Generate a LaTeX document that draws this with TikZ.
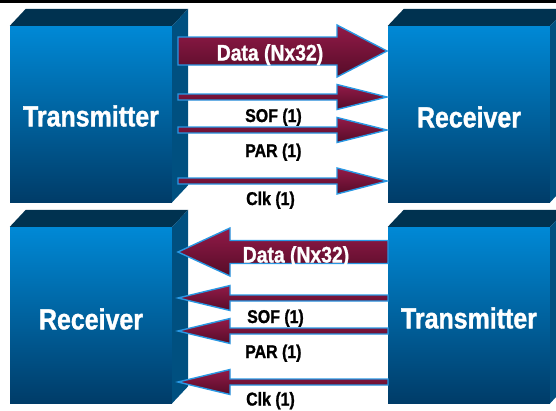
\documentclass[tikz,border=0pt]{standalone}
\usepackage{fontspec}
\setmainfont{Liberation Sans}[FakeStretch=0.86, BoldFeatures={FakeBold=1.2}]
\usetikzlibrary{calc}

\definecolor{facetop}{RGB}{0,137,214}
\definecolor{facebot}{RGB}{0,60,104}
\definecolor{lidcol}{RGB}{0,50,80}
\definecolor{sidecol}{RGB}{0,80,128}
\definecolor{sigtop}{RGB}{146,26,72}
\definecolor{sigbot}{RGB}{86,12,40}
\definecolor{sigedge}{RGB}{40,152,228}

\tikzset{
  frontbox/.style={rectangle, inner sep=0pt, minimum width=162pt, minimum height=176pt,
    top color=facetop, bottom color=facebot},
  boxlabel/.style={text=white, font=\bfseries\fontsize{29}{30}\selectfont, inner sep=0pt},
  datalabel/.style={text=white, font=\bfseries\fontsize{22.5}{24}\selectfont, inner sep=0pt, anchor=base},
  siglabel/.style={text=black, font=\bfseries\fontsize{18.5}{20}\selectfont, inner sep=0pt, anchor=base west},
  sigfill/.style={top color=sigtop, bottom color=sigbot, draw=sigedge, line width=1.4pt, line join=miter},
}

% 3-D block: front face node plus lid and side faces
\newcommand\blockfaces[1]{%
  \fill[lidcol] (#1.north west) -- ++(16,-17) -- ($(#1.north east)+(16,-17)$) -- (#1.north east) -- cycle;
  \fill[sidecol] (#1.north east) -- ++(16,-17) -- ($(#1.south east)+(16,-17)$) -- (#1.south east) -- cycle;
}

% block arrow: name, tail, tip, shaft half-width, head half-width, head length
\newcommand\sigarrow[6]{%
  \coordinate (#1-h) at ($(#3)!#6!(#2)$);
  \draw[sigfill] ($(#2)!#4!90:(#3)$) -- ($(#1-h)!#4!90:(#3)$) -- ($(#1-h)!#5!90:(#3)$)
    -- (#3) -- ($(#1-h)!#5!-90:(#3)$) -- ($(#1-h)!#4!-90:(#3)$) -- ($(#2)!#4!-90:(#3)$) -- cycle;
}

\begin{document}
\begin{tikzpicture}[x=1pt, y=-1pt]
  \useasboundingbox (0,0) rectangle (556,410);
  \clip (0,0) rectangle (556,410);
  \fill[black] (0,0) rectangle (556,2.5);

  % upper pair
  \node[frontbox] (tx1) at (91,114) {};
  \blockfaces{tx1}
  \node[boxlabel] (tx1l) at ([yshift=-2pt]tx1.center) {Transmitter};
  \node[frontbox] (rx1) at (469,114) {};
  \blockfaces{rx1}
  \node[boxlabel] (rx1l) at ([yshift=-3pt]rx1.center) {Receiver};

  % lower pair
  \node[frontbox] (rx2) at (91,315) {};
  \blockfaces{rx2}
  \node[boxlabel] (rx2l) at ([yshift=-4pt]rx2.center) {Receiver};
  \node[frontbox] (tx2) at (469,315) {};
  \blockfaces{tx2}
  \node[boxlabel] (tx2l) at ([yshift=-3pt]tx2.center) {Transmitter};

  % upper links, left to right
  \coordinate (d1s) at (178,51);  \coordinate (d1e) at (387,51);
  \coordinate (s1s) at (178,97);  \coordinate (s1e) at (387,97);
  \coordinate (p1s) at (178,130); \coordinate (p1e) at (387,130);
  \coordinate (c1s) at (178,181); \coordinate (c1e) at (387,181);
  \sigarrow{d1}{d1s}{d1e}{14pt}{26pt}{50pt}
  \sigarrow{s1}{s1s}{s1e}{3pt}{12.5pt}{50pt}
  \sigarrow{p1}{p1s}{p1e}{3pt}{12.5pt}{50pt}
  \sigarrow{c1}{c1s}{c1e}{3pt}{13pt}{50pt}
  \node[datalabel] (d1l) at (270,60.5) {Data (Nx32)};
  \node[siglabel] (s1l) at (245,122) {SOF (1)};
  \node[siglabel] (p1l) at (245,157) {PAR (1)};
  \node[siglabel] (c1l) at (246,205) {Clk (1)};

  % lower links, right to left
  \coordinate (d2s) at (388,252); \coordinate (d2e) at (178,252);
  \coordinate (s2s) at (388,298); \coordinate (s2e) at (178,298);
  \coordinate (p2s) at (388,331); \coordinate (p2e) at (178,331);
  \coordinate (c2s) at (388,382); \coordinate (c2e) at (178,382);
  \sigarrow{d2}{d2s}{d2e}{11.5pt}{24pt}{52pt}
  \sigarrow{s2}{s2s}{s2e}{3pt}{12.5pt}{52pt}
  \sigarrow{p2}{p2s}{p2e}{3pt}{12.5pt}{52pt}
  \sigarrow{c2}{c2s}{c2e}{3pt}{12.5pt}{52pt}
  \node[datalabel] (d2l) at (296,262.5) {Data (Nx32)};
  \node[siglabel] (s2l) at (247,323) {SOF (1)};
  \node[siglabel] (p2l) at (245,358) {PAR (1)};
  \node[siglabel] (c2l) at (246,405.5) {Clk (1)};
\end{tikzpicture}
\end{document}
